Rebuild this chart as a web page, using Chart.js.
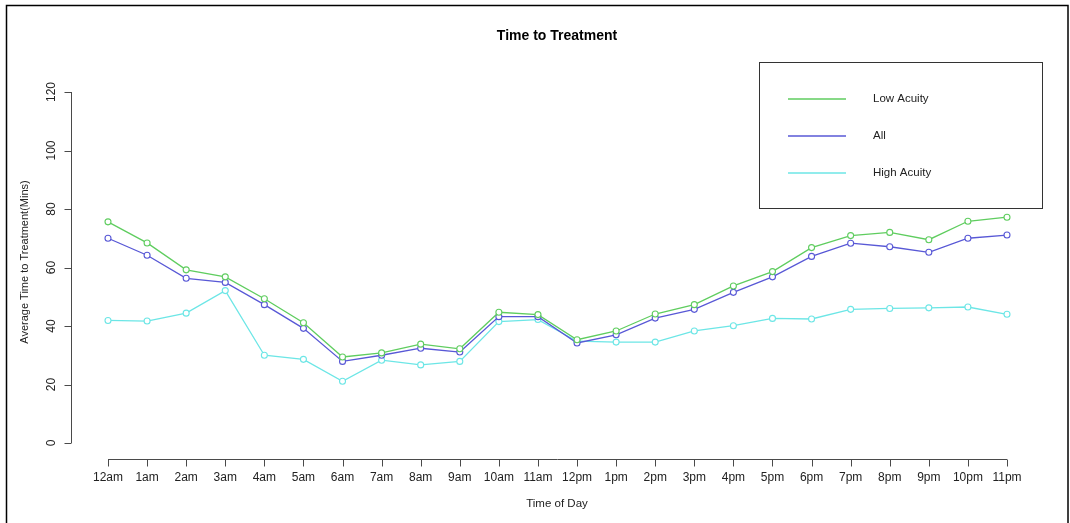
<!DOCTYPE html>
<html>
<head>
<meta charset="utf-8">
<title>Time to Treatment</title>
<script src="https://cdn.jsdelivr.net/npm/chart.js@4"></script>
<style>
  html, body { margin: 0; padding: 0; background: #ffffff; }
  #wrap { width: 1070px; height: 523px; }
</style>
</head>
<body>
<div id="wrap"><canvas id="chart" width="1070" height="523"></canvas></div>
<script>
// Hour-of-day categories
const hours = ['12am','1am','2am','3am','4am','5am','6am','7am','8am','9am','10am','11am',
               '12pm','1pm','2pm','3pm','4pm','5pm','6pm','7pm','8pm','9pm','10pm','11pm'];

// Average minutes to treatment for each hour
const lowAcuity  = [75.6, 68.4, 59.2, 56.8, 49.3, 41.1, 29.4, 30.8, 33.8, 32.2, 44.7, 43.9,
                    35.3, 38.3, 44.1, 47.3, 53.7, 58.6, 66.8, 70.9, 72.0, 69.5, 75.8, 77.2];
const allPatients = [70.0, 64.2, 56.3, 54.9, 47.3, 39.2, 27.9, 30.0, 32.4, 31.1, 43.2, 43.2,
                    34.2, 37.0, 42.7, 45.7, 51.5, 56.8, 63.8, 68.3, 67.1, 65.2, 70.0, 71.1];
const highAcuity = [41.9, 41.7, 44.4, 52.1, 30.0, 28.6, 21.1, 28.3, 26.7, 27.9, 41.5, 42.2,
                    34.8, 34.5, 34.5, 38.3, 40.1, 42.6, 42.4, 45.7, 46.0, 46.2, 46.5, 44.0];

// Value-axis tick labels
const yTicks = [0, 20, 40, 60, 80, 100, 120];

const seriesNames = ['Low Acuity', 'All', 'High Acuity'];
const seriesColors = ['#5fcd5f', '#5858d6', '#6ce6e6'];

const FONT = '"Liberation Sans", Arial, Helvetica, sans-serif';
const TEXT = '#222222';
const AXIS = '#4a4a4a';

// Base-graphics style frame: detached axes, rotated y labels, boxed legend
const framePlugin = {
  id: 'frame',
  afterDraw(chart) {
    const ctx = chart.ctx;
    const xs = chart.scales.x;
    const ys = chart.scales.y;
    ctx.save();

    // outer border
    ctx.strokeStyle = '#000000';
    ctx.lineWidth = 1.5;
    ctx.strokeRect(6.5, 5.5, 1061.5, 530);

    // title
    ctx.fillStyle = '#000000';
    ctx.font = 'bold 14px ' + FONT;
    ctx.textAlign = 'center';
    ctx.textBaseline = 'middle';
    ctx.fillText('Time to Treatment', 557, 36);

    ctx.strokeStyle = AXIS;
    ctx.lineWidth = 1;

    // x axis
    const xAxisY = 459.5;
    const x0 = xs.getPixelForValue(0);
    const x1 = xs.getPixelForValue(hours.length - 1);
    ctx.beginPath();
    ctx.moveTo(x0, xAxisY);
    ctx.lineTo(x1, xAxisY);
    hours.forEach((h, i) => {
      const px = Math.round(xs.getPixelForValue(i)) + 0.5;
      ctx.moveTo(px, xAxisY);
      ctx.lineTo(px, xAxisY + 7);
    });
    ctx.stroke();

    ctx.fillStyle = TEXT;
    ctx.font = '12px ' + FONT;
    ctx.textAlign = 'center';
    ctx.textBaseline = 'middle';
    hours.forEach((h, i) => {
      ctx.fillText(h, xs.getPixelForValue(i), 478);
    });
    ctx.font = '11.5px ' + FONT;
    ctx.fillText('Time of Day', 557, 504);

    // y axis
    const yAxisX = 71.5;
    ctx.beginPath();
    ctx.moveTo(yAxisX, ys.getPixelForValue(yTicks[0]));
    ctx.lineTo(yAxisX, ys.getPixelForValue(yTicks[yTicks.length - 1]));
    yTicks.forEach(v => {
      const py = Math.round(ys.getPixelForValue(v)) + 0.5;
      ctx.moveTo(yAxisX, py);
      ctx.lineTo(yAxisX - 7, py);
    });
    ctx.stroke();

    ctx.font = '12px ' + FONT;
    yTicks.forEach(v => {
      ctx.save();
      ctx.translate(52, ys.getPixelForValue(v));
      ctx.rotate(-Math.PI / 2);
      ctx.fillText(String(v), 0, 0);
      ctx.restore();
    });

    ctx.font = '11px ' + FONT;
    ctx.save();
    ctx.translate(25, 262);
    ctx.rotate(-Math.PI / 2);
    ctx.fillText('Average Time to Treatment(Mins)', 0, 0);
    ctx.restore();

    // legend
    ctx.strokeStyle = '#333333';
    ctx.lineWidth = 1;
    ctx.strokeRect(759.5, 62.5, 283, 146);
    const rows = [99, 136, 173];
    ctx.font = '11.5px ' + FONT;
    ctx.textAlign = 'left';
    ctx.lineWidth = 1.4;
    seriesNames.forEach((name, i) => {
      ctx.strokeStyle = seriesColors[i];
      ctx.beginPath();
      ctx.moveTo(788, rows[i]);
      ctx.lineTo(846, rows[i]);
      ctx.stroke();
      ctx.fillStyle = TEXT;
      ctx.fillText(name, 873, rows[i]);
    });

    ctx.restore();
  }
};

const makeSet = (label, values, color) => ({
  label,
  data: values,
  borderColor: color,
  backgroundColor: color,
  borderWidth: 1.3,
  pointRadius: 3,
  pointBorderWidth: 1.1,
  pointBorderColor: color,
  pointBackgroundColor: '#ffffff',
  tension: 0,
  fill: false,
  clip: false
});

new Chart(document.getElementById('chart'), {
  type: 'line',
  data: {
    labels: hours,
    datasets: [
      makeSet(seriesNames[0], lowAcuity, seriesColors[0]),
      makeSet(seriesNames[1], allPatients, seriesColors[1]),
      makeSet(seriesNames[2], highAcuity, seriesColors[2])
    ]
  },
  options: {
    responsive: false,
    devicePixelRatio: 1,
    animation: false,
    events: [],
    layout: {
      padding: { left: 108, right: 63, top: 92, bottom: 80 }
    },
    plugins: {
      legend: { display: false },
      title: { display: false },
      tooltip: { enabled: false }
    },
    scales: {
      x: { type: 'category', display: false, offset: false },
      y: { type: 'linear', display: false, min: 0, max: 120 }
    }
  },
  plugins: [framePlugin]
});
</script>
</body>
</html>
